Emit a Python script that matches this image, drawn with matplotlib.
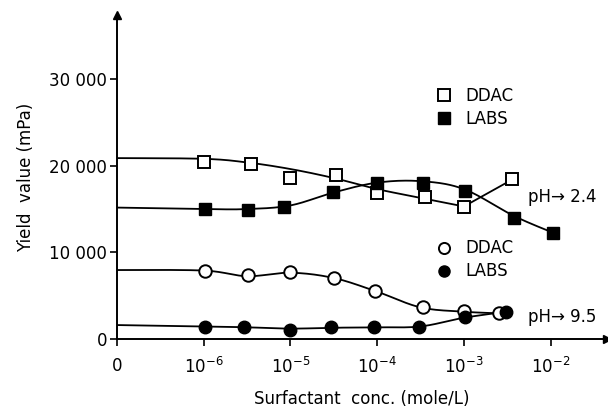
import numpy as np
import matplotlib
matplotlib.use("Agg")
import matplotlib.pyplot as plt
from matplotlib.lines import Line2D

# x values are log10 of concentration, "0" is drawn at the 1e-7 position
tick_pos = [-7, -6, -5, -4, -3, -2]
tick_labels = ["0", r"$10^{-6}$", r"$10^{-5}$", r"$10^{-4}$", r"$10^{-3}$", r"$10^{-2}$"]
ytick_pos = [0, 10000, 20000, 30000]
ytick_labels = ["0", "10 000", "20 000", "30 000"]

# measured points
ddac24_x = [-6.0, -5.45, -5.0, -4.47, -4.0, -3.45, -3.0, -2.44]
ddac24_y = [20450, 20180, 18600, 18920, 16800, 16410, 15260, 18420]
labs24_x = [-5.99, -5.49, -5.07, -4.51, -4.0, -3.47, -2.99, -2.42, -1.97]
labs24_y = [14960, 14880, 15260, 16920, 17990, 17960, 17100, 13920, 12260]
ddac95_x = [-5.99, -5.49, -5.0, -4.5, -4.02, -3.47, -3.0, -2.59]
ddac95_y = [7840, 7380, 7760, 7070, 5540, 3650, 3260, 3030]
labs95_x = [-5.99, -5.53, -5.0, -4.53, -4.04, -3.52, -2.99, -2.51]
labs95_y = [1420, 1350, 1040, 1350, 1350, 1420, 2500, 3150]

# hand drawn trend curves (knots)
ddac24_cx = [-7, -6, -5.5, -5, -4.5, -4, -3.5, -3]
ddac24_cy = [20880, 20800, 20380, 19620, 18580, 17300, 16300, 15300]
labs24_cx = [-7, -6, -5.5, -5, -4.5, -4, -3.5, -3, -2.42, -1.97]
labs24_cy = [15170, 15000, 15000, 15420, 16920, 18050, 18220, 17300, 14190, 12260]
ddac95_cx = [-7, -6, -5.5, -5, -4.5, -4, -3.5, -3, -2.59]
ddac95_cy = [7960, 7900, 7250, 7650, 7040, 5460, 3650, 3150, 2960]
labs95_cx = [-7, -6, -5.5, -5, -4.5, -4, -3.5, -3, -2.51]
labs95_cy = [1610, 1450, 1350, 1200, 1300, 1350, 1450, 2450, 3150]


def smooth(xs, ys, n=30):
    # catmull-rom through the knots
    p = np.column_stack([xs, ys]).astype(float)
    p = np.vstack([p[0], p, p[-1]])
    t = np.linspace(0, 1, n)[:, None]
    out = []
    for i in range(1, len(p) - 2):
        p0, p1, p2, p3 = p[i - 1], p[i], p[i + 1], p[i + 2]
        seg = 0.5 * (2 * p1 + (-p0 + p2) * t
                     + (2 * p0 - 5 * p1 + 4 * p2 - p3) * t ** 2
                     + (-p0 + 3 * p1 - 3 * p2 + p3) * t ** 3)
        out.append(seg)
    out = np.vstack(out)
    return out[:, 0], out[:, 1]


plt.rcParams['font.family'] = ['DejaVu Sans']
fig = plt.figure(figsize=(6.08, 4.09), dpi=100)
ax = fig.add_axes([117 / 608, 1 - 339 / 409, 490 / 608, 324 / 409])

lw = 1.3
for cx, cy in [(ddac24_cx, ddac24_cy), (labs24_cx, labs24_cy),
               (ddac95_cx, ddac95_cy), (labs95_cx, labs95_cy)]:
    sx, sy = smooth(cx, cy)
    ax.plot(sx, sy, color='black', lw=lw, zorder=2)
# straight rise to the last open square
ax.plot([ddac24_cx[-1], ddac24_x[-1]], [ddac24_cy[-1], ddac24_y[-1]], color='black', lw=lw, zorder=2)

ms = 9
ax.plot(ddac24_x, ddac24_y, 's', ms=ms, mfc='white', mec='black', mew=1.4, ls='none', zorder=3)
ax.plot(labs24_x, labs24_y, 's', ms=ms, mfc='black', mec='black', ls='none', zorder=3)
ax.plot(ddac95_x, ddac95_y, 'o', ms=ms, mfc='white', mec='black', mew=1.4, ls='none', zorder=3)
ax.plot(labs95_x, labs95_y, 'o', ms=ms, mfc='black', mec='black', ls='none', zorder=3)

ax.set_xlim(-7, -1.35)
ax.set_ylim(0, 37400)
for s in ['top', 'right']:
    ax.spines[s].set_visible(False)
for s in ['left', 'bottom']:
    ax.spines[s].set_linewidth(1.4)

ax.set_xticks(tick_pos)
ax.set_xticklabels(tick_labels, fontsize=12)
ax.set_yticks(ytick_pos)
ax.set_yticklabels(ytick_labels, fontsize=12)
ax.tick_params(direction='out', length=5, width=1.2)
ax.tick_params(axis='x', pad=8)
ax.tick_params(axis='y', pad=2)

# axis arrow heads
ax.plot(0, 1, '^', ms=6, color='black', transform=ax.transAxes, clip_on=False)
ax.plot(1, 0, '>', ms=6, color='black', transform=ax.transAxes, clip_on=False)

ax.set_xlabel("Surfactant  conc. (mole/L)", fontsize=12, labelpad=9)
ax.set_ylabel("Yield  value (mPa)", fontsize=12, labelpad=10)

h_sq = [Line2D([], [], marker='s', ls='none', ms=8, mfc='white', mec='black', mew=1.4),
        Line2D([], [], marker='s', ls='none', ms=8, mfc='black', mec='black')]
h_ci = [Line2D([], [], marker='o', ls='none', ms=8, mfc='white', mec='black', mew=1.4),
        Line2D([], [], marker='o', ls='none', ms=8, mfc='black', mec='black')]
leg1 = ax.legend(h_sq, ["DDAC", "LABS"], loc='center left', bbox_to_anchor=(0.62, 0.716),
                 frameon=False, fontsize=12, handlelength=1.0, handletextpad=0.8, labelspacing=0.3)
ax.add_artist(leg1)
ax.legend(h_ci, ["DDAC", "LABS"], loc='center left', bbox_to_anchor=(0.62, 0.244),
          frameon=False, fontsize=12, handlelength=1.0, handletextpad=0.8, labelspacing=0.3)

ax.text(0.839, 0.438, "pH\u2192 2.4", transform=ax.transAxes, fontsize=12, va='center')
ax.text(0.839, 0.068, "pH\u2192 9.5", transform=ax.transAxes, fontsize=12, va='center')

fig.savefig("out.png", dpi=100)
